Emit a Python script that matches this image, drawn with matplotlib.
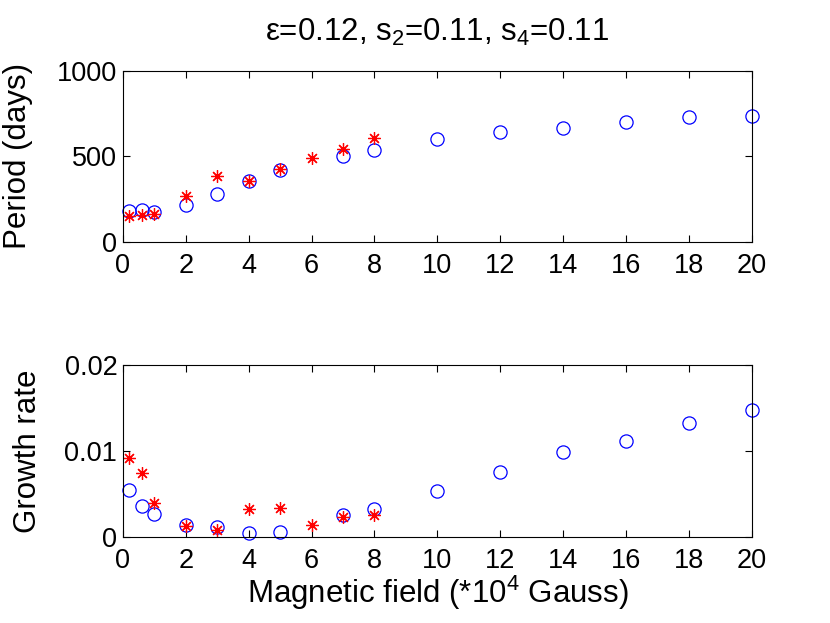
import numpy as np
import matplotlib.pyplot as plt

plt.rcParams['font.family'] = ['Liberation Sans', 'DejaVu Sans']
plt.rcParams['mathtext.fontset'] = 'custom'
plt.rcParams['mathtext.rm'] = 'Liberation Sans'

# model (circles) and observed (stars)
field_model = [0.2, 0.6, 1, 2, 3, 4, 5, 7, 8, 10, 12, 14, 16, 18, 20]
period_model = [182, 186, 172, 217, 281, 357, 420, 504, 539, 601, 644, 668, 703, 729, 736]
growth_model = [0.0054, 0.0036, 0.0026, 0.0014, 0.0011, 0.0004, 0.0005,
                0.0025, 0.0032, 0.0053, 0.0075, 0.0099, 0.0112, 0.0133, 0.0148]

field_obs = [0.2, 0.6, 1, 2, 3, 4, 5, 6, 7, 8]
period_obs = [152, 156, 162, 269, 387, 356, 424, 492, 541, 609]
growth_obs = [0.0092, 0.0074, 0.0039, 0.0012, 0.0008, 0.0032, 0.0034, 0.0014, 0.0023, 0.0025]

TICK_FS = 19.5
LABEL_FS = 22.5

fig = plt.figure(figsize=(8.3, 6.23), dpi=100)
ax1 = fig.add_axes([0.148, 0.612, 0.758, 0.274])
ax2 = fig.add_axes([0.148, 0.1385, 0.758, 0.2755])

for ax in (ax1, ax2):
    ax.set_xlim(0, 20)
    ax.set_xticks(np.arange(0, 21, 2))
    ax.tick_params(direction='in', top=True, right=True, labelsize=TICK_FS, length=5, width=0.8)
    ax.tick_params(axis='x', pad=8)
    ax.tick_params(axis='y', pad=4)
    for s in ax.spines.values():
        s.set_linewidth(0.8)

ax1.plot(field_model, period_model, 'o', mfc='none', mec='blue', ms=9.5, mew=0.9, clip_on=False)
ax1.plot(field_obs, period_obs, ls='none', marker=(8, 2, 0), color='red', ms=9, mew=0.9, clip_on=False)
ax1.set_ylim(0, 1000)
ax1.set_yticks([0, 500, 1000])
ax1.set_ylabel('Period (days)', fontsize=LABEL_FS)
ax1.yaxis.set_label_coords(-0.143, 0.5)
ax1.set_title(r'ε=0.12, s$_2$=0.11, s$_4$=0.11', fontsize=LABEL_FS, pad=22)

ax2.plot(field_model, growth_model, 'o', mfc='none', mec='blue', ms=9.5, mew=0.9, clip_on=False)
ax2.plot(field_obs, growth_obs, ls='none', marker=(8, 2, 0), color='red', ms=9, mew=0.9, clip_on=False)
ax2.set_ylim(0, 0.02)
ax2.set_yticks([0, 0.01, 0.02])
ax2.set_yticklabels(['0', '0.01', '0.02'])
ax2.set_ylabel('Growth rate', fontsize=LABEL_FS)
ax2.yaxis.set_label_coords(-0.127, 0.5)
ax2.set_xlabel(r'Magnetic field (*10$^4$ Gauss)', fontsize=LABEL_FS, labelpad=0)

fig.savefig('out.png', dpi=100)
